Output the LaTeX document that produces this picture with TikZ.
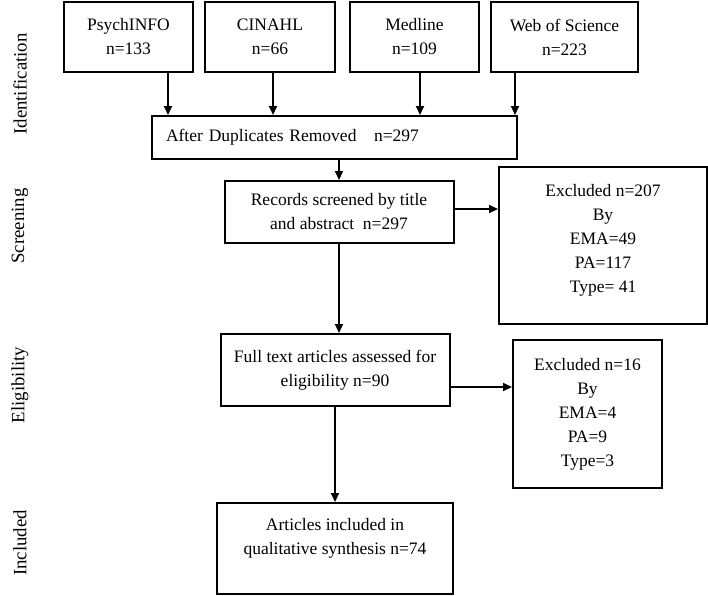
\documentclass[tikz,border=0pt]{standalone}
\usepackage{fontspec}
\setmainfont{Liberation Serif}
\usetikzlibrary{arrows.meta}

\begin{document}
\begin{tikzpicture}[x=1pt,y=-1pt,
  every node/.style={draw, line width=2pt, align=center, inner sep=2pt, font=\fontsize{17.5}{24}\selectfont},
  stage/.style={draw=none, rotate=90, font=\fontsize{18.8}{22}\selectfont},
  arr/.style={line width=2pt, -{Triangle[length=9pt,width=8pt]}}]
\useasboundingbox (0,0) rectangle (708,595);

\node[stage] (ident) at (20,84) {Identification};
\node[stage] (scr) at (20,226) {Screening};
\node[stage] (elig) at (20,385) {Eligibility};
\node[stage] (inc) at (20,543) {Included};

\node[minimum width=129pt, minimum height=70pt] (psych) at (128.5,37) {PsychINFO\\n=133};
\node[minimum width=130pt, minimum height=70pt] (cinahl) at (270,37) {CINAHL\\n=66};
\node[minimum width=129pt, minimum height=70pt] (medline) at (414.5,37) {Medline\\n=109};
\node[minimum width=147pt, minimum height=70pt] (wos) at (564.5,37) {Web of Science\\n=223};

\node[text width=337pt, inner xsep=14pt, minimum height=43pt, align=left] (dup) at (334.5,137.5) {After Duplicates Removed\ \ \ n=297};
\node[minimum width=229pt, minimum height=62pt] (screen) at (339,212) {Records screened by title\\and abstract\ \ n=297};
\node[minimum width=208pt, minimum height=157pt] (excl1) at (603,245.5) {Excluded n=207\\By\\EMA=49\\PA=117\\Type= 41\\[-9pt]\mbox{}};

\node[minimum width=229pt, minimum height=72pt] (full) at (335,370) {Full text articles assessed for\\eligibility n=90};
\node[minimum width=149pt, minimum height=148pt] (excl2) at (587.5,414) {Excluded n=16\\By\\EMA=4\\PA=9\\Type=3};

\node[minimum width=236pt, minimum height=91pt] (incl) at (335,548.5) {Articles included in\\qualitative synthesis n=74\\\mbox{}};

\draw[arr] ([xshift=39.5pt]psych.south) -- ([xshift=39.5pt]psych.south |- dup.north);
\draw[arr] ([xshift=3pt]cinahl.south) -- ([xshift=3pt]cinahl.south |- dup.north);
\draw[arr] ([xshift=5.5pt]medline.south) -- ([xshift=5.5pt]medline.south |- dup.north);
\draw[arr] ([xshift=-49.5pt]wos.south) -- ([xshift=-49.5pt]wos.south |- dup.north);
\draw[arr] (screen.north |- dup.south) -- (screen.north);
\draw[arr] ([yshift=3pt]screen.east) -- ([yshift=3pt]screen.east -| excl1.west);
\draw[arr] (screen.south) -- (screen.south |- full.north);
\draw[arr] ([yshift=-17pt]full.east) -- ([yshift=-17pt]full.east -| excl2.west);
\draw[arr] (full.south) -- (full.south |- incl.north);
\end{tikzpicture}
\end{document}
